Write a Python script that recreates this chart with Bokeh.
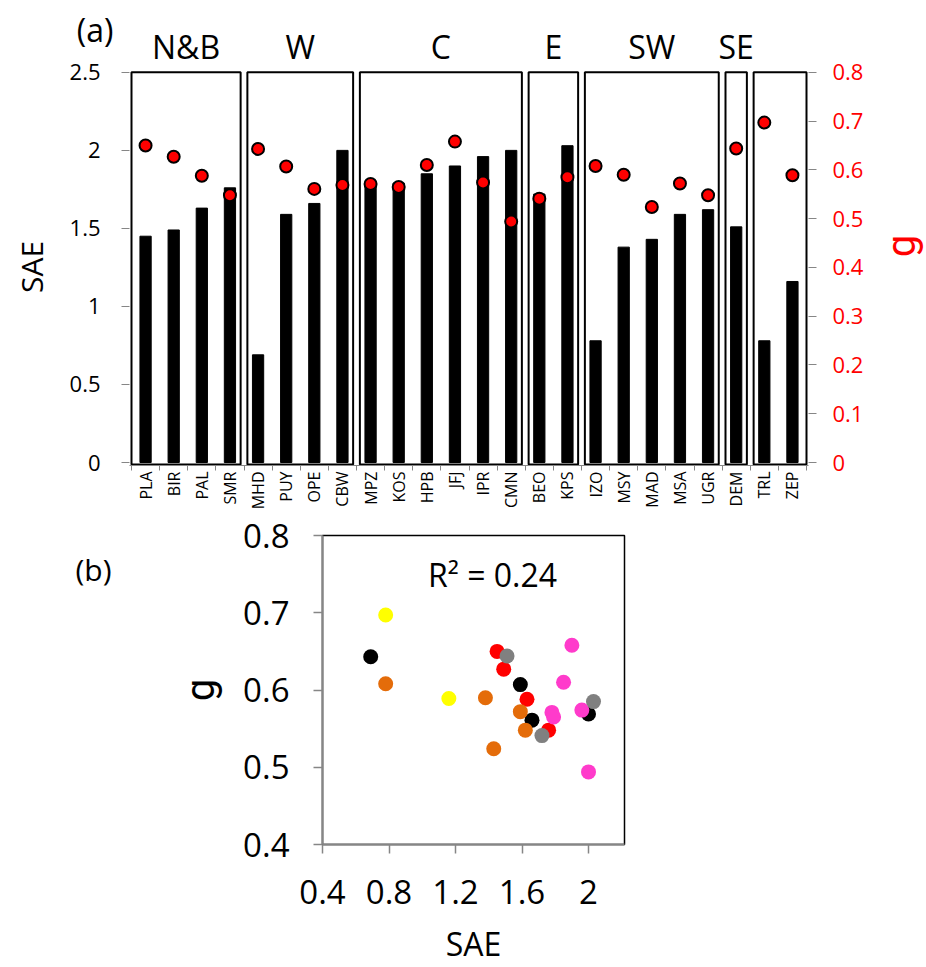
import math
from bokeh.plotting import figure
from bokeh.models import Range1d, LinearAxis, FixedTicker, Label
from bokeh.layouts import row
from bokeh.core.properties import value
from bokeh.embed import file_html
from bokeh.resources import INLINE

FONT = "Open Sans"
GFONT = "Roboto"

# ---------------- data ----------------
stations = ["PLA", "BIR", "PAL", "SMR", "MHD", "PUY", "OPE", "CBW", "MPZ", "KOS",
            "HPB", "JFJ", "IPR", "CMN", "BEO", "KPS", "IZO", "MSY", "MAD", "MSA",
            "UGR", "DEM", "TRL", "ZEP"]
sae = [1.45, 1.49, 1.63, 1.76, 0.69, 1.59, 1.66, 2.00, 1.78, 1.79,
       1.85, 1.90, 1.96, 2.00, 1.72, 2.03, 0.78, 1.38, 1.43, 1.59,
       1.62, 1.51, 0.78, 1.16]
g_vals = [0.650, 0.627, 0.588, 0.548, 0.643, 0.607, 0.561, 0.569, 0.571, 0.565,
          0.610, 0.658, 0.574, 0.494, 0.541, 0.585, 0.608, 0.590, 0.524, 0.572,
          0.548, 0.644, 0.697, 0.589]
groups = ["N&B", "W", "C", "E", "SW", "SE", ""]
group_sizes = [4, 4, 6, 2, 5, 1, 2]
group_colors = ["#FF0000", "#000000", "#FF3BCB", "#808080", "#E46C0A", "#808080", "#FFFF00"]
scatter_draw_order = [1, 0, 2, 4, 3, 5, 6]
sae_ticks = [0, 0.5, 1, 1.5, 2, 2.5]
g_ticks = [0, 0.1, 0.2, 0.3, 0.4, 0.5, 0.6, 0.7, 0.8]
sc_x_ticks = [0.4, 0.8, 1.2, 1.6, 2.0]
sc_y_ticks = [0.4, 0.5, 0.6, 0.7, 0.8]
r2_text = "R\u00b2 = 0.24"

n = len(stations)
centers = [i + 0.5 for i in range(n)]
bounds = list(range(n + 1))

def fmt(v):
    return str(int(v)) if float(v).is_integer() else str(v)

W = 926
px_x = 28.125      # px per category
px_y = 156.4       # px per SAE unit
px_g = 488.75      # px per g unit
X0 = 131           # canvas x of category 0
Y0 = 463           # canvas y of SAE = 0
P1_H = 512         # height of panel (a) row
BOT_B = 46         # border below frame of panel (a)
FR_B = P1_H - BOT_B  # canvas y of frame bottom (466)
LS_W = 60          # left strip width ("SAE")
RS_W = 60          # right strip width ("g")
P1_W = W - LS_W - RS_W
FR_L = X0 - 2
FR_R = X0 + 2 + 24 * px_x

def cy(v):          # canvas y -> SAE data value
    return (Y0 - v) / px_y

def bare(fig):
    fig.outline_line_color = None
    fig.xgrid.visible = False
    fig.ygrid.visible = False

# group box extents (category units)
lefts, rights = [], []
start = 0
for s in group_sizes:
    end = start + s
    lefts.append(start + 0.12 if start > 0 else 0)
    rights.append(end - 0.12 if end < n else n)
    start = end

# ---------------- panel (a) ----------------
p1 = figure(width=P1_W, height=P1_H, title=None,
            x_range=Range1d(-2 / px_x, n + 2 / px_x),
            y_range=Range1d(-(FR_B - Y0) / px_y, Y0 / px_y),
            output_backend="svg", toolbar_location=None,
            min_border_left=int(FR_L - LS_W), min_border_right=int(round(W - RS_W - FR_R)),
            min_border_top=0, min_border_bottom=BOT_B)
p1.extra_y_ranges = {"g": Range1d(-(FR_B - Y0) / px_g, Y0 / px_g)}
bare(p1)

p1.quad(left=lefts, right=rights, bottom=[-2 / px_y] * len(lefts), top=[2.5] * len(lefts),
        fill_color=None, line_color="black", line_width=2)
p1.vbar(x=centers, top=sae, bottom=0, width=0.4, fill_color="black", line_color="black")
p1.scatter(x=centers, y=g_vals, y_range_name="g", size=12,
           fill_color="#FF0000", line_color="black", line_width=2)

# group names above the boxes
gx = [(l + r) / 2 for l, r, nm in zip(lefts, rights, groups) if nm]
gt = [nm for nm in groups if nm]
p1.text(x=gx, y=[cy(46)] * len(gx), text=gt, text_align="center", text_baseline="middle",
        text_font=value(FONT), text_font_size=value("32px"), text_color="black")

xa = p1.xaxis[0]
xa.ticker = FixedTicker(ticks=centers, minor_ticks=bounds)
xa.major_label_overrides = {c: s for c, s in zip(centers, stations)}
xa.major_label_orientation = math.pi / 2
xa.major_tick_line_color = None
xa.major_tick_in = 0
xa.major_tick_out = 0
xa.minor_tick_line_color = "#868686"
xa.minor_tick_in = 0
xa.minor_tick_out = 5
xa.axis_line_color = "#868686"
xa.major_label_text_font = FONT
xa.major_label_text_font_size = "16px"
xa.major_label_text_color = "black"
xa.major_label_standoff = 1

# left: tick marks only
ya = p1.yaxis[0]
ya.ticker = FixedTicker(ticks=sae_ticks)
ya.major_label_overrides = {v: "" for v in sae_ticks}
ya.axis_line_color = None
ya.major_tick_line_color = "#868686"
ya.major_tick_in = 0
ya.major_tick_out = 8
ya.minor_tick_line_color = None
ya.major_label_standoff = 0

# left: panel tag "(a)"
tag_y = cy(29)
tag_axis = LinearAxis(ticker=FixedTicker(ticks=[tag_y]),
                      major_label_overrides={tag_y: "(a)"},
                      axis_line_color=None, major_tick_line_color=None,
                      minor_tick_line_color=None, major_tick_in=0, major_tick_out=0,
                      major_label_text_font=FONT, major_label_text_font_size="32px",
                      major_label_text_color="black", major_label_standoff=8)
p1.add_layout(tag_axis, "left")

# left: SAE tick labels
lab_axis = LinearAxis(ticker=FixedTicker(ticks=sae_ticks),
                      major_label_overrides={v: fmt(v) for v in sae_ticks},
                      axis_line_color=None, major_tick_line_color=None,
                      minor_tick_line_color=None, major_tick_in=0, major_tick_out=0,
                      major_label_text_font=FONT, major_label_text_font_size="22px",
                      major_label_text_color="black", major_label_standoff=-27)
p1.add_layout(lab_axis, "left")

ra = LinearAxis(y_range_name="g", ticker=FixedTicker(ticks=g_ticks))
ra.major_label_overrides = {v: fmt(v) for v in g_ticks}
ra.axis_line_color = None
ra.major_tick_line_color = "#868686"
ra.major_tick_in = 0
ra.major_tick_out = 8
ra.minor_tick_line_color = None
ra.major_label_text_font = FONT
ra.major_label_text_font_size = "22px"
ra.major_label_text_color = "#FF0000"
ra.major_label_standoff = 16
p1.add_layout(ra, "right")

# strips left / right of panel (a) holding the rotated axis titles
def strip(x0, x1):
    f = figure(width=x1 - x0, height=P1_H, title=None,
               x_range=Range1d(x0, x1), y_range=Range1d(FR_B, 0),
               x_axis_location=None, y_axis_location=None,
               output_backend="svg", toolbar_location=None,
               min_border_left=0, min_border_right=0,
               min_border_top=0, min_border_bottom=BOT_B)
    bare(f)
    return f

ls = strip(0, LS_W)
ls.text(x=[31], y=[267], text=["SAE"], angle=math.pi / 2, text_align="center",
        text_baseline="middle", text_font=value(FONT), text_font_size=value("30px"),
        text_color="black")
rs = strip(W - RS_W, W)
rs.text(x=[901], y=[246], text=["g"], angle=math.pi / 2, text_align="center",
        text_baseline="middle", text_font=value(GFONT), text_font_size=value("40px"),
        text_color="#FF0000")

# ---------------- panel (b) ----------------
sx = 166.25   # px per SAE unit
sy = 780.0    # px per g unit
P2_H = 967 - P1_H
p2 = figure(width=W, height=P2_H, title=None,
            x_range=Range1d(0.4, 0.4 + 302 / sx), y_range=Range1d(0.4, 0.8),
            output_backend="svg", toolbar_location=None,
            min_border_left=322, min_border_right=302,
            min_border_top=535 - P1_H, min_border_bottom=120)
p2.outline_line_color = "black"
p2.outline_line_width = 1.5
p2.xgrid.visible = False
p2.ygrid.visible = False

spans = []
start = 0
for s in group_sizes:
    spans.append((start, start + s))
    start += s
for gi in scatter_draw_order:
    a, b = spans[gi]
    p2.scatter(x=sae[a:b], y=g_vals[a:b], size=15, fill_color=group_colors[gi],
               line_color=None)

for ax, ticks in ((p2.xaxis[0], sc_x_ticks), (p2.yaxis[0], sc_y_ticks)):
    ax.ticker = FixedTicker(ticks=ticks)
    ax.major_label_overrides = {v: fmt(v) for v in ticks}
    ax.axis_line_color = "#868686"
    ax.axis_line_width = 2
    ax.major_tick_line_color = "#868686"
    ax.major_tick_line_width = 1.5
    ax.major_tick_in = 0
    ax.major_tick_out = 9
    ax.minor_tick_line_color = None
    ax.major_label_text_font = FONT
    ax.major_label_text_font_size = "33px"
    ax.major_label_text_color = "black"
    ax.axis_label_text_font = FONT
    ax.axis_label_text_font_style = "normal"
    ax.axis_label_text_color = "black"
p2.xaxis[0].major_label_standoff = 26
p2.yaxis[0].major_label_standoff = 24
p2.xaxis[0].axis_label = "SAE"
p2.xaxis[0].axis_label_text_font_size = "32px"
p2.xaxis[0].axis_label_standoff = 15
p2.yaxis[0].axis_label = "g"
p2.yaxis[0].axis_label_text_font = GFONT
p2.yaxis[0].axis_label_text_font_size = "40px"
p2.yaxis[0].axis_label_standoff = 16

b_lab_y = 0.4 + (847 - 569) / sy
ba = LinearAxis(ticker=FixedTicker(ticks=[b_lab_y]),
                major_label_overrides={b_lab_y: "(b)"},
                axis_line_color=None, major_tick_line_color=None,
                minor_tick_line_color=None, major_tick_in=0, major_tick_out=0,
                major_label_text_font=FONT, major_label_text_font_size="30px",
                major_label_text_color="black", major_label_standoff=63)
p2.add_layout(ba, "left")

p2.add_layout(Label(x=0.4 + (492 - 322) / sx, y=0.4 + (847 - 574) / sy, text=r2_text,
                    text_align="center", text_baseline="middle",
                    text_font=FONT, text_font_size="32px", text_color="black"))

open("out.html", "w").write(file_html([row(ls, p1, rs), p2], INLINE))
